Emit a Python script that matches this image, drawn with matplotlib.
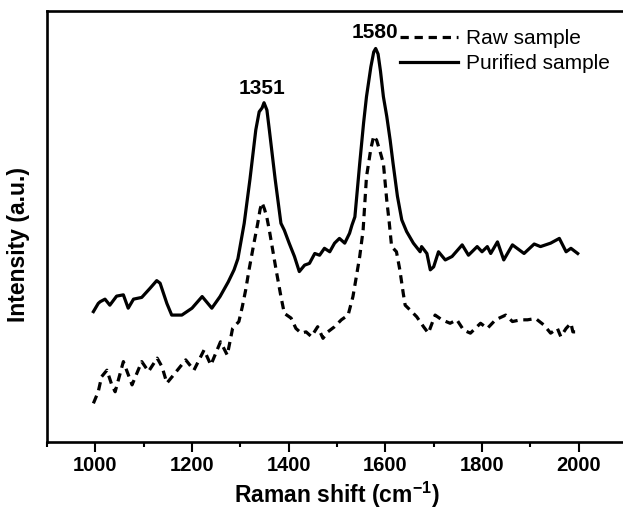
import matplotlib
matplotlib.use("Agg")
import matplotlib.pyplot as plt

plt.rcParams['font.family'] = ['Liberation Sans', 'DejaVu Sans']
plt.rcParams['mathtext.fontset'] = 'custom'
plt.rcParams['mathtext.rm'] = 'Liberation Sans'
plt.rcParams['mathtext.bf'] = 'Liberation Sans:bold'

# Purified sample (solid)
purified_x = [996, 1006, 1010, 1020, 1030, 1044, 1058, 1068, 1079, 1096, 1113, 1127, 1134,
              1148, 1158, 1179, 1200, 1221, 1241, 1258, 1275, 1287, 1295, 1308, 1320, 1332,
              1339, 1345, 1349, 1355, 1360, 1372, 1384, 1391, 1401, 1412, 1422, 1433, 1443,
              1454, 1464, 1474, 1485, 1495, 1505, 1516, 1526, 1531, 1537, 1547, 1555, 1561,
              1570, 1576, 1580, 1585, 1590, 1596, 1603, 1610, 1616, 1625, 1634, 1644, 1658,
              1672, 1675, 1686, 1693, 1700, 1710, 1724, 1738, 1759, 1772, 1790, 1800, 1811,
              1818, 1832, 1845, 1863, 1887, 1908, 1921, 1942, 1960, 1974, 1984, 1998]
purified_y = [30.2, 32.1, 32.5, 33.1, 31.7, 33.8, 34.1, 31.0, 33.1, 33.5, 35.6, 37.4, 36.8,
              32.1, 29.4, 29.4, 31.0, 33.7, 31.0, 33.7, 37.1, 39.9, 42.5, 50.7, 61.0, 72.4,
              76.6, 77.5, 78.7, 77.0, 72.4, 61.0, 50.7, 49.1, 46.1, 43.0, 39.5, 41.0, 41.4,
              43.7, 43.3, 44.9, 44.1, 46.1, 47.2, 46.1, 48.4, 50.3, 52.2, 64.6, 74.0, 80.1,
              87.0, 90.5, 91.3, 90.0, 86.0, 80.1, 75.5, 70.0, 64.6, 57.0, 51.5, 48.8, 46.1,
              44.1, 45.3, 43.7, 39.9, 40.6, 44.1, 42.2, 43.0, 45.7, 43.3, 45.3, 44.1, 45.3,
              43.7, 46.4, 42.2, 45.7, 43.7, 45.9, 45.3, 46.1, 47.2, 44.1, 44.9, 43.7]

# Raw sample (dashed)
raw_x = [996, 1006, 1013, 1024, 1034, 1041, 1058, 1076, 1096, 1110, 1128, 1138, 1148, 1159,
         1187, 1204, 1225, 1239, 1259, 1273, 1284, 1297, 1304, 1311, 1318, 1328, 1336, 1341,
         1345, 1350, 1355, 1360, 1374, 1384, 1391, 1405, 1415, 1426, 1436, 1447, 1460, 1471,
         1481, 1495, 1509, 1523, 1533, 1540, 1547, 1554, 1561, 1570, 1576, 1582, 1590, 1596,
         1603, 1608, 1613, 1623, 1630, 1637, 1641, 1651, 1665, 1679, 1689, 1703, 1717, 1734,
         1748, 1762, 1776, 1797, 1811, 1828, 1849, 1863, 1880, 1894, 1911, 1928, 1942, 1956,
         1963, 1974, 1984, 1988, 1998]
raw_y = [8.9, 11.6, 15.1, 16.6, 13.2, 11.6, 18.6, 13.2, 18.6, 16.3, 19.4, 17.4, 13.6, 15.1,
         19.0, 16.6, 21.3, 17.8, 23.2, 20.1, 26.3, 27.9, 31.3, 35.2, 39.9, 46.0, 50.7, 54.0,
         55.5, 54.0, 52.0, 49.1, 39.9, 33.7, 29.8, 28.7, 26.3, 25.2, 25.5, 24.4, 26.7, 24.0,
         25.5, 26.7, 28.3, 29.4, 33.7, 38.3, 43.0, 49.1, 61.5, 68.0, 71.0, 70.0, 67.0, 64.6,
         56.0, 51.0, 45.3, 44.1, 39.9, 34.5, 31.7, 30.6, 29.0, 26.7, 25.2, 29.4, 28.3, 27.5,
         28.3, 25.9, 25.2, 27.5, 26.3, 28.3, 29.4, 27.9, 28.3, 28.3, 28.6, 27.1, 25.2, 26.3,
         24.4, 26.3, 27.5, 25.5, 25.5]

series_labels = ["Raw sample", "Purified sample"]
peak_labels = ["1351", "1580"]
peak_label_x = [1345, 1579]
peak_label_y = [82.1, 95.1]
x_ticks = [1000, 1200, 1400, 1600, 1800, 2000]

W, H = 623, 509
fig = plt.figure(figsize=(W / 100, H / 100), dpi=100)
ax = fig.add_axes([47 / W, (H - 441.7) / H, (627 - 47) / W, (441.7 - 11) / H])

ax.plot(raw_x, raw_y, color='black', lw=2.3, linestyle=(0, (2.6, 1.8)), label=series_labels[0])
ax.plot(purified_x, purified_y, color='black', lw=2.3, label=series_labels[1])

ax.set_xlim(900, 2100)
ax.set_ylim(0, 100)
ax.set_xticks(x_ticks)
ax.set_xticks(range(900, 2101, 100), minor=True)
ax.set_yticks([])
ax.tick_params(axis='x', which='major', length=7.2, width=1.5, direction='out', pad=3,
               labelsize=14.5)
ax.tick_params(axis='x', which='minor', length=3.6, width=1.5, direction='out')
for lab in ax.get_xticklabels():
    lab.set_fontweight('bold')
for sp in ax.spines.values():
    sp.set_linewidth(1.9)

for t, xx, yy in zip(peak_labels, peak_label_x, peak_label_y):
    ax.text(xx, yy, t, ha='center', va='center', fontsize=15, fontweight='bold')

ax.set_xlabel("Raman shift (cm$^{\\mathbf{-1}}$)", fontsize=16.5, fontweight='bold')
ax.set_ylabel("Intensity (a.u.)", fontsize=16.5, fontweight='bold')
ax.xaxis.set_label_coords(0.5, (441.7 - 479.5) / 430.7)
ax.yaxis.set_label_coords((30 - 47) / 580, (441.7 - 244) / 430.7)

leg = ax.legend(loc='upper left', bbox_to_anchor=(400 / W, (H - 29) / H),
                bbox_transform=fig.transFigure, frameon=False, fontsize=15,
                handlelength=2.8, handletextpad=0.35, labelspacing=0.3, borderpad=0,
                borderaxespad=0)

fig.savefig("out.png", dpi=100)
